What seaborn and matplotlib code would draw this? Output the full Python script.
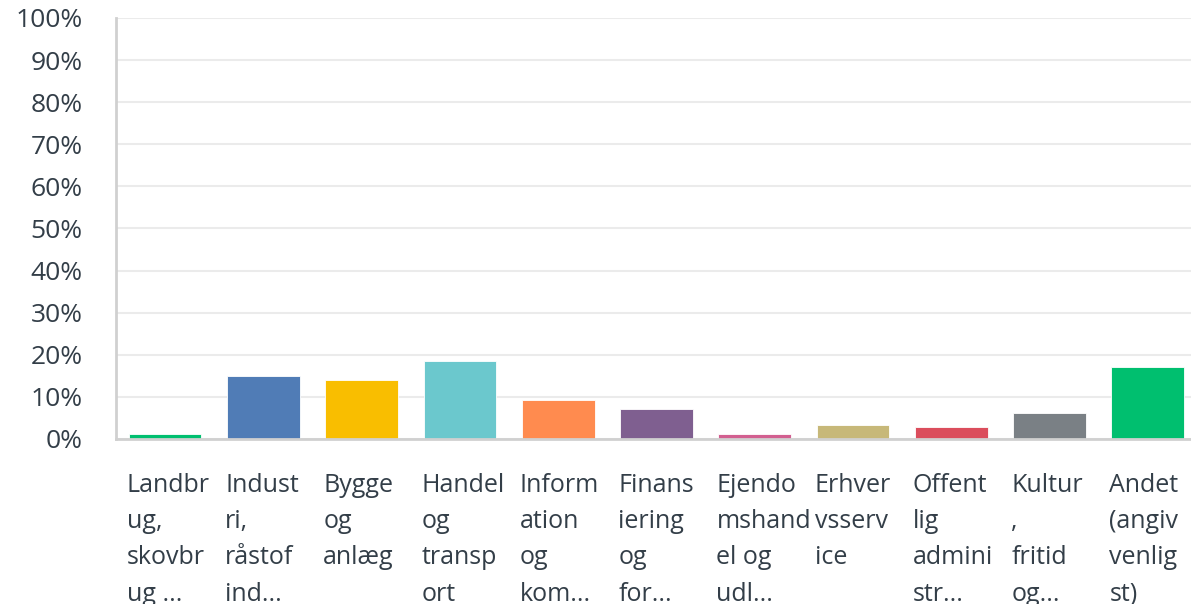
import matplotlib
matplotlib.use('Agg')
import matplotlib.pyplot as plt
import seaborn as sns
import pandas as pd

# data (percent of respondents)
categories = ['Landbrug, skovbrug ...', 'Industri, råstof ind...', 'Bygge og anlæg',
              'Handel og transport', 'Information og kom...', 'Finansiering og for...',
              'Ejendomshandel og udl...', 'Erhvervsservice', 'Offentlig administr...',
              'Kultur, fritid og...', 'Andet (angiv venligst)']
# wrapped label text as shown under each bar
labels = ['Landbr\nug,\nskovbr\nug ...', 'Indust\nri,\nråstof\nind...', 'Bygge\nog\nanlæg',
          'Handel\nog\ntransp\nort', 'Inform\nation\nog\nkom...', 'Finans\niering\nog\nfor...',
          'Ejendo\nmshand\nel og\nudl...', 'Erhver\nvsserv\nice', 'Offent\nlig\nadmini\nstr...',
          'Kultur\n,\nfritid\nog...', 'Andet\n(angiv\nvenlig\nst)']
values = [1.3, 15.0, 14.0, 18.6, 9.2, 7.1, 1.3, 3.4, 2.9, 6.1, 17.1]
colors = ['#00BF6F', '#507CB6', '#F9BE00', '#6BC8CD', '#FF8B4F', '#7F5F90',
          '#D25F90', '#C7B879', '#DB4D5C', '#7A8085', '#00BF6F']
yticks = [0, 10, 20, 30, 40, 50, 60, 70, 80, 90, 100]

df = pd.DataFrame({'cat': categories, 'pct': values})

sns.set_style('white')
plt.rcParams['font.family'] = ['Open Sans', 'DejaVu Sans']
text_color = '#333E48'

fig = plt.figure(figsize=(11.91, 6.04), dpi=100)
ax = fig.add_axes([0.0974, 0.2732, 0.9026, 0.697])

sns.barplot(data=df, x='cat', y='pct', hue='cat', palette=colors, legend=False,
            width=0.74, saturation=1, edgecolor='white', linewidth=0.6, ax=ax)

ax.set_ylim(0, 100)
ax.set_xlim(-0.5, 10.44)
ax.set_yticks(yticks)
ax.set_yticklabels([f'{t}%' for t in yticks], fontsize=19, color=text_color)
ax.tick_params(axis='y', length=0, pad=24)
ax.set_xticks([])
ax.set_xlabel('')
ax.set_ylabel('')
ax.yaxis.grid(True, color='#EBEBEB', linewidth=1.5)
ax.set_axisbelow(True)

for s in ['top', 'right']:
    ax.spines[s].set_visible(False)
ax.spines['left'].set_color('#D0D0D0')
ax.spines['left'].set_linewidth(2)
ax.spines['bottom'].set_color('#D0D0D0')
ax.spines['bottom'].set_linewidth(2)

# category labels, left aligned at the bar's left edge, below the axis
trans = matplotlib.transforms.blended_transform_factory(ax.transData, ax.transAxes)
for i, lab in enumerate(labels):
    ax.text(i - 0.39, -0.08, lab, transform=trans, ha='left', va='top',
            fontsize=18, color=text_color, linespacing=1.6)

fig.savefig('out.png', dpi=100)
